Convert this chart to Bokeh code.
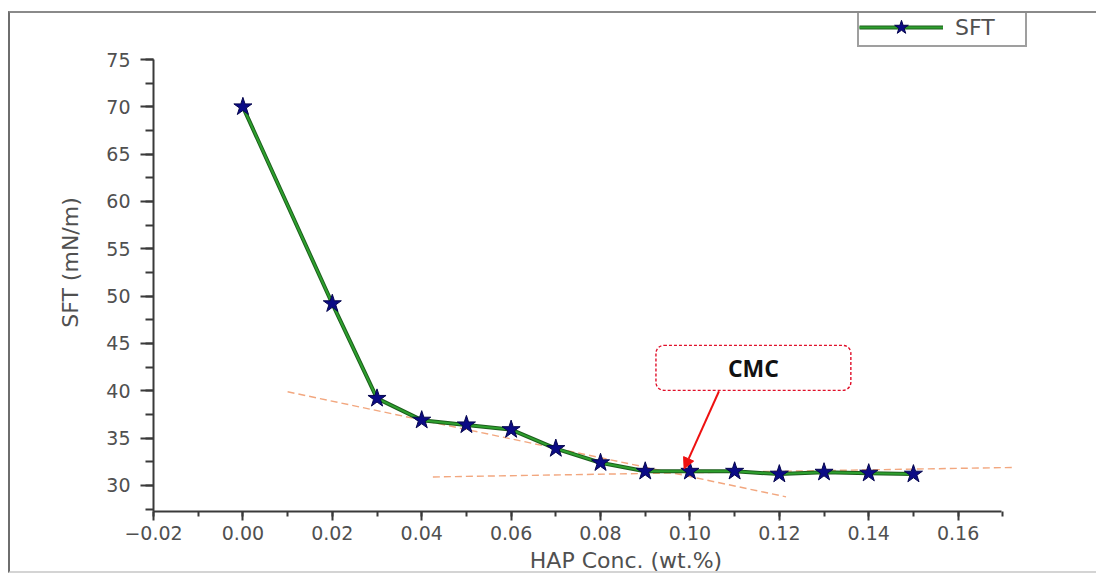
from bokeh.plotting import figure
from bokeh.models import (Range1d, FixedTicker, CustomJSTickFormatter, Legend, LegendItem,
                          BoxAnnotation, Label, Arrow, NormalHead)
from bokeh.embed import file_html
from bokeh.resources import INLINE

# ---- data ----
hap_conc = [0.00, 0.02, 0.03, 0.04, 0.05, 0.06, 0.07, 0.08, 0.09, 0.10, 0.11, 0.12, 0.13, 0.14, 0.15]
sft = [70.0, 49.2, 39.2, 36.9, 36.4, 35.9, 33.9, 32.4, 31.5, 31.5, 31.5, 31.2, 31.4, 31.3, 31.2]
tangent1_x = [0.010, 0.1215]
tangent1_y = [39.9, 28.8]
tangent2_x = [0.0425, 0.172]
tangent2_y = [30.9, 31.9]
x_ticks = [-0.02, 0.00, 0.02, 0.04, 0.06, 0.08, 0.10, 0.12, 0.14, 0.16]
y_ticks = [30, 35, 40, 45, 50, 55, 60, 65, 70, 75]
cmc_label = "CMC"
series_name = "SFT"

FONT = "DejaVu Sans"
GRAY_TXT = "#505050"
AXIS_COL = "#3a3a3a"

X_AXIS_END = 0.1697
Y_AXIS_END = 75

p = figure(width=1088, height=562, output_backend="svg", toolbar_location=None,
           x_range=Range1d(-0.02, 0.1914), y_range=Range1d(27.25, 79.86),
           min_border_left=143, min_border_right=0, min_border_top=0, min_border_bottom=64)
# outer gray frame of the picture
p.styles = {"margin-left": "8px", "margin-top": "11px",
            "border-left": "2px solid #6e6e6e", "border-top": "2px solid #8a8a8a",
            "border-bottom": "2px solid #d4d4d4"}
p.outline_line_color = None
p.grid.visible = False
p.background_fill_color = "white"
p.border_fill_color = "white"

# axes
xa = p.xaxis[0]
ya = p.yaxis[0]
xa.bounds = (-0.02, X_AXIS_END)
ya.bounds = (27.25, Y_AXIS_END)
xa.ticker = FixedTicker(ticks=x_ticks, minor_ticks=[round(-0.02 + 0.01 * i, 3) for i in range(20)])
ya.ticker = FixedTicker(ticks=y_ticks, minor_ticks=[27.5 + 2.5 * i for i in range(20)])
xa.formatter = CustomJSTickFormatter(code='return (tick < -1e-9 ? "\\u2212" : "") + Math.abs(tick).toFixed(2);')
for ax in (xa, ya):
    ax.axis_line_color = AXIS_COL
    ax.axis_line_width = 2
    ax.major_tick_line_color = AXIS_COL
    ax.minor_tick_line_color = AXIS_COL
    ax.major_tick_line_width = 2
    ax.minor_tick_line_width = 2
    ax.major_tick_in = 0
    ax.minor_tick_in = 0
    ax.major_label_text_font = FONT
    ax.major_label_text_font_size = "19px"
    ax.major_label_text_color = GRAY_TXT
    ax.axis_label_text_font = FONT
    ax.axis_label_text_font_style = "normal"
    ax.axis_label_text_color = GRAY_TXT
ya.major_tick_out = 13
ya.minor_tick_out = 8
ya.major_label_standoff = 10
ya.axis_label = "SFT (mN/m)"
ya.axis_label_text_font_size = "22px"
ya.axis_label_standoff = 20
xa.major_tick_out = 9
xa.minor_tick_out = 5
xa.major_label_standoff = 5
xa.axis_label = "HAP Conc. (wt.%)"
xa.axis_label_text_font_size = "22px"
xa.axis_label_standoff = 5

# tangent (dashed) lines
p.line(tangent1_x, tangent1_y, line_color="#f2a77f", line_width=1.4, line_dash="7 4")
p.line(tangent2_x, tangent2_y, line_color="#f2a77f", line_width=1.4, line_dash="7 4")

# data
l_dark = p.line(hap_conc, sft, line_color="#1c5e1c", line_width=4)
l_green = p.line(hap_conc, sft, line_color="#2ea02e", line_width=2)
stars = p.scatter(hap_conc, sft, marker="star", size=19, fill_color="#0b0b85",
                  line_color="#06064f", line_width=1)

# CMC callout
box = BoxAnnotation(left=0.0924, right=0.136, bottom=40.05, top=44.8,
                    fill_color="white", fill_alpha=1.0, line_color="#e0102a", line_alpha=1.0,
                    line_dash="3 2", line_width=1.4, border_radius=8)
p.add_layout(box)
p.add_layout(Label(x=0.1142, y=42.4, text=cmc_label, text_font="Open Sans",
                   text_font_style="bold", text_font_size="23px", text_color="#111111",
                   text_align="center", text_baseline="middle"))
p.add_layout(Arrow(end=NormalHead(size=11, fill_color="#ee1111", line_color="#ee1111"),
                   x_start=0.1065, y_start=39.95, x_end=0.0987, y_end=31.75,
                   line_color="#ee1111", line_width=2))

# legend
legend = Legend(items=[LegendItem(label=series_name, renderers=[l_dark, l_green, stars])],
                location=(704, 464), orientation="vertical",
                label_text_font=FONT, label_text_font_size="22px", label_text_color=GRAY_TXT,
                glyph_width=84, glyph_height=36, label_standoff=12, label_width=70,
                padding=0, margin=0, spacing=0,
                border_line_color="#404040", border_line_width=2,
                background_fill_color="white", background_fill_alpha=1.0)
p.add_layout(legend, "center")

open("out.html", "w").write(file_html(p, INLINE))
